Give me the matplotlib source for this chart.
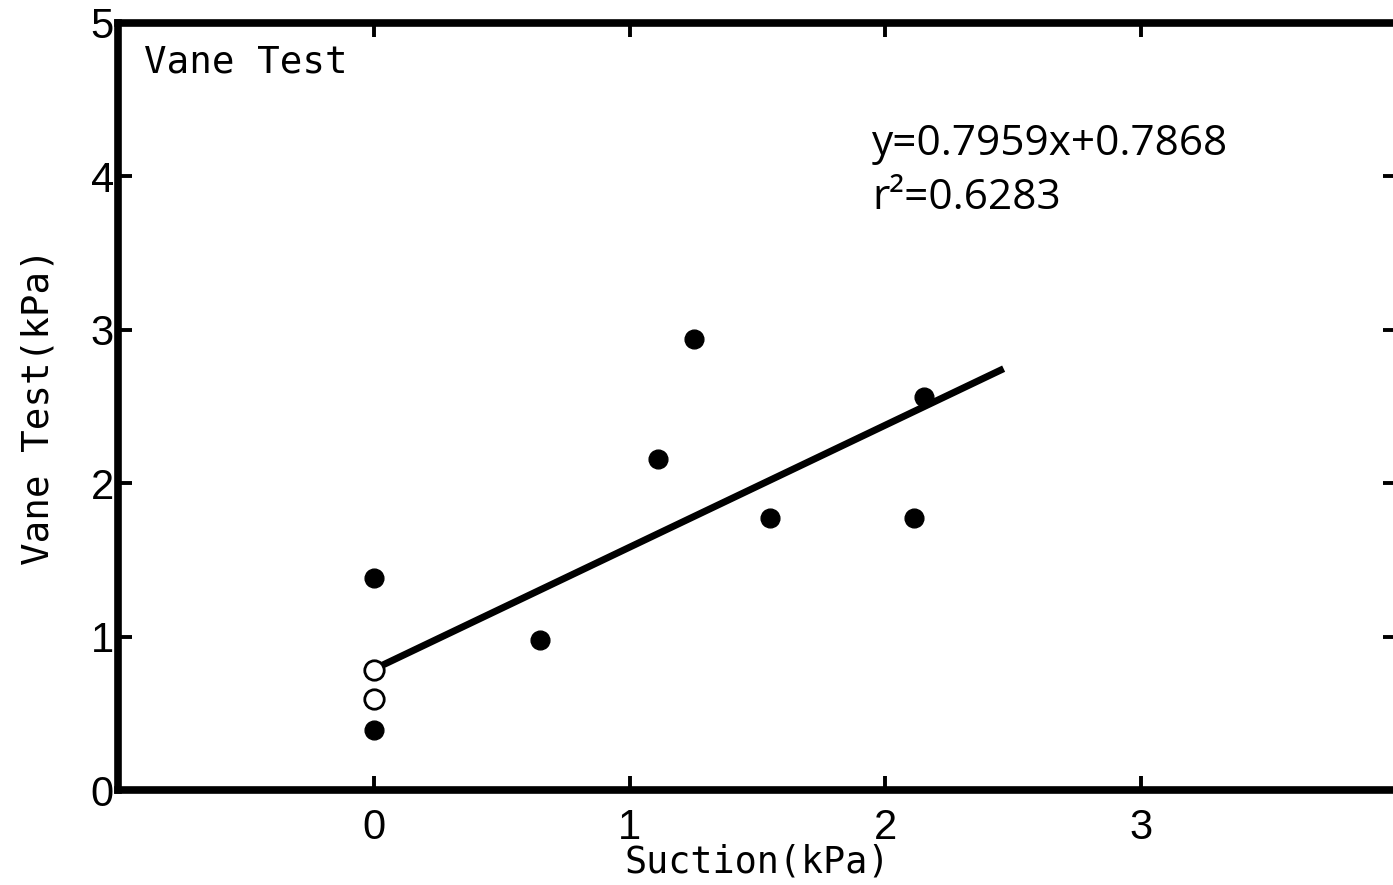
import matplotlib
matplotlib.use("Agg")
import matplotlib.pyplot as plt

# datos
succion_llena = [0.0, 0.0, 0.65, 1.11, 1.25, 1.55, 2.11, 2.15]
vane_llena = [1.38, 0.39, 0.98, 2.16, 2.94, 1.77, 1.77, 2.56]
succion_vacia = [0.0, 0.0]
vane_vacia = [0.78, 0.59]

pendiente = 0.7959
intercepto = 0.7868
r2 = 0.6283
x_recta = [0.0, 2.45]

xticks = [0, 1, 2, 3]
yticks = [0, 1, 2, 3, 4, 5]

fuente_num = "Liberation Sans"
fuente_mono = "DejaVu Sans Mono"
fuente_eq = "Open Sans"

fig = plt.figure(figsize=(13.93, 8.85), dpi=100)
ax = fig.add_axes([118 / 1393, 95 / 885, 1279 / 1393, 767 / 885])

ax.plot(succion_llena, vane_llena, 'o', color='black', markersize=13.5, zorder=3)
ax.plot(succion_vacia, vane_vacia, 'o', markerfacecolor='white', markeredgecolor='black',
        markersize=14, markeredgewidth=2, zorder=3)
y_recta = [pendiente * x + intercepto for x in x_recta]
ax.plot(x_recta, y_recta, 'k-', linewidth=5, zorder=2)

ax.set_xlim(-1, 4)
ax.set_ylim(0, 5)
ax.set_xticks(xticks)
ax.set_yticks(yticks)
ax.set_xticklabels([str(t) for t in xticks], fontsize=30, family=fuente_num)
ax.set_yticklabels([str(t) for t in yticks], fontsize=30, family=fuente_num)
ax.tick_params(direction='in', length=10, width=2.8, top=True, right=True)
ax.tick_params(axis='x', pad=13)
ax.tick_params(axis='y', pad=3)
for lado in ax.spines.values():
    lado.set_linewidth(5.5)

ax.set_xlabel("Suction(kPa)", fontsize=26.5, family=fuente_mono)
ax.xaxis.set_label_coords(0.5, -0.070)
ax.set_ylabel("Vane Test(kPa)", fontsize=27, family=fuente_mono)
ax.yaxis.set_label_coords(-0.048, 0.5)

ax.text(0.02, 0.972, "Vane Test", transform=ax.transAxes, fontsize=27, family=fuente_mono,
        va='top', ha='left')
ax.text(1.949, 4.14, f"y={pendiente}x+{intercepto}", fontsize=30.5, family=fuente_eq, va='baseline')
ax.text(1.949, 3.79, f"r²={r2}", fontsize=30.5, family=fuente_eq, va='baseline')

fig.savefig("out.png", dpi=100)
